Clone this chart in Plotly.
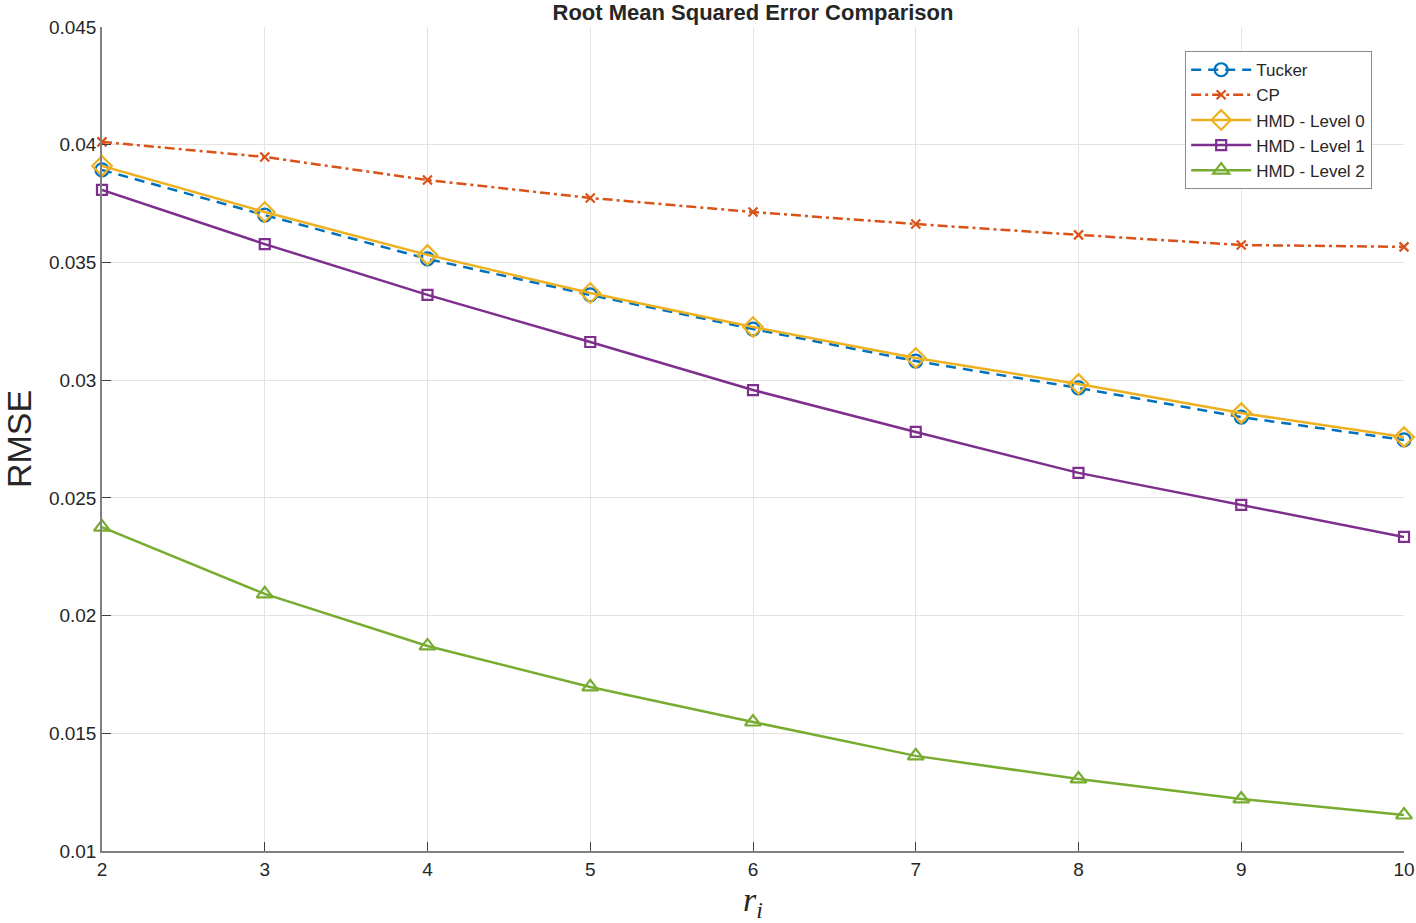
import plotly.graph_objects as go

ranks = [2, 3, 4, 5, 6, 7, 8, 9, 10]
tucker = [0.03893, 0.03701, 0.03515, 0.03362, 0.03217, 0.03081, 0.02967, 0.02843, 0.02746]
cp = [0.04012, 0.03948, 0.03850, 0.03774, 0.03714, 0.03663, 0.03617, 0.03574, 0.03566]
hmd0 = [0.03910, 0.03714, 0.03532, 0.03370, 0.03226, 0.03094, 0.02984, 0.02860, 0.02758]
hmd1 = [0.03808, 0.03578, 0.03362, 0.03162, 0.02958, 0.02780, 0.02606, 0.02470, 0.02334]
hmd2 = [0.02376, 0.02092, 0.01871, 0.01697, 0.01548, 0.01404, 0.01306, 0.01221, 0.01153]

y_ticks = [0.01, 0.015, 0.02, 0.025, 0.03, 0.035, 0.04, 0.045]
y_tick_labels = ["0.01", "0.015", "0.02", "0.025", "0.03", "0.035", "0.04", "0.045"]
x_ticks = [2, 3, 4, 5, 6, 7, 8, 9, 10]

series = [
    ("Tucker", tucker, "#0072BD", "10px,7px", "circle-open", 13),
    ("CP", cp, "#D95319", "10px,4px,3px,4px", "x-thin-open", 9),
    ("HMD - Level 0", hmd0, "#EDB120", "solid", "diamond-open", 15),
    ("HMD - Level 1", hmd1, "#7E2F8E", "solid", "square-open", 10),
    ("HMD - Level 2", hmd2, "#77AC30", "solid", "triangle-up-open", 14),
]

fig = go.Figure()
for name, vals, color, dash, sym, size in series:
    fig.add_trace(go.Scatter(
        x=ranks, y=vals, name=name, mode="lines+markers",
        line=dict(color=color, width=2.5, dash=dash),
        marker=dict(symbol=sym, size=size, color=color,
                    line=dict(color=color, width=2.2)),
        cliponaxis=False,
    ))

axis_font = dict(family="Liberation Sans, Arial, sans-serif", size=19, color="#262626")

fig.update_layout(
    width=1416, height=923,
    margin=dict(l=102, r=12, t=27, b=72),
    plot_bgcolor="white", paper_bgcolor="white",
    title=dict(text="<b>Root Mean Squared Error Comparison</b>",
               x=0.5, xref="paper", xanchor="center", y=0.9865, yanchor="middle",
               font=dict(family="Liberation Sans, Arial, sans-serif", size=22, color="#262626")),
    xaxis=dict(range=[2, 10], tickvals=x_ticks, showgrid=True, gridcolor="#e3e3e3",
               gridwidth=1, zeroline=False, showline=True, linecolor="#808080", linewidth=1.5,
               ticks="inside", ticklen=9, tickcolor="#404040", tickfont=axis_font,
               automargin=False,
               title=dict(text="<i>r<sub>i</sub></i>", standoff=10,
                          font=dict(family="Liberation Serif, Times New Roman, serif", size=34, color="#262626"))),
    yaxis=dict(range=[0.01, 0.045], tickvals=y_ticks, ticktext=y_tick_labels, showgrid=True,
               gridcolor="#e3e3e3", gridwidth=1, zeroline=False, showline=True,
               linecolor="#808080", linewidth=1.5, ticks="inside", ticklen=9,
               tickcolor="#404040", tickfont=axis_font, automargin=False,
               title=dict(text="RMSE", standoff=12,
                          font=dict(family="Liberation Sans, Arial, sans-serif", size=34, color="#262626"))),
    legend=dict(x=0.9754, y=0.9709, xanchor="right", yanchor="top",
                bgcolor="white", bordercolor="#8c8c8c", borderwidth=1.2,
                font=dict(family="Liberation Sans, Arial, sans-serif", size=17, color="#262626"),
                itemwidth=60, tracegroupgap=0),
    showlegend=True,
)

fig.write_html("out.html")
